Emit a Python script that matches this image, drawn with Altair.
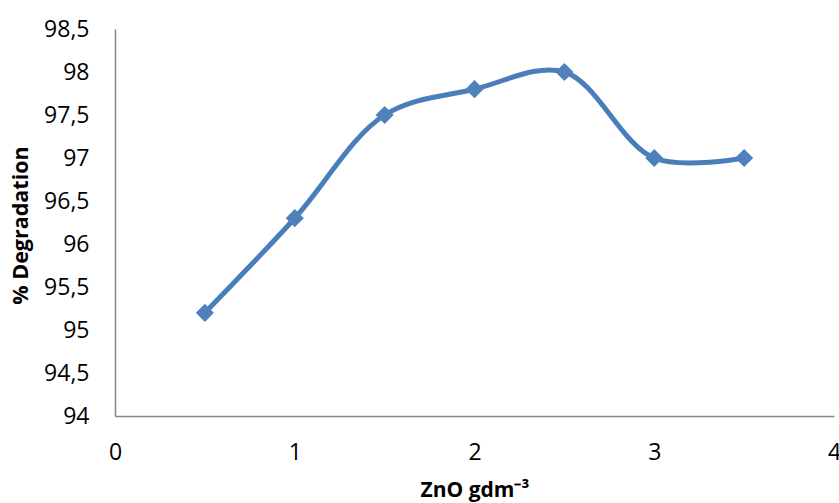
import altair as alt
import pandas as pd

zno = [0.5, 1.0, 1.5, 2.0, 2.5, 3.0, 3.5]
degradation = [95.2, 96.3, 97.5, 97.8, 98.0, 97.0, 97.0]
x_ticks = [0, 1, 2, 3, 4]
y_ticks = [94, 94.5, 95, 95.5, 96, 96.5, 97, 97.5, 98, 98.5]

df = pd.DataFrame({"zno": zno, "deg": degradation})

FONT = "Open Sans"
BLUE = "#4a7ebb"

x_enc = alt.X(
    "zno:Q",
    scale=alt.Scale(domain=[0, 4], nice=False, zero=False),
    axis=alt.Axis(
        values=x_ticks, format="d", title="ZnO gdm⁻³", grid=False, ticks=False,
        domainColor="#868686", domainWidth=1.5, labelFont=FONT, labelFontSize=23,
        labelColor="#000000", labelPadding=25, labelFlush=False,
        titleFont=FONT, titleFontSize=21, titleFontWeight="bold", titleColor="#000000",
        titleY=74, titleBaseline="middle",
    ),
)
y_enc = alt.Y(
    "deg:Q",
    scale=alt.Scale(domain=[94, 98.5], nice=False, zero=False),
    axis=alt.Axis(
        values=y_ticks, format=".1~f", labelExpr="replace(datum.label, '.', ',')",
        title="% Degradation", grid=False, ticks=False,
        domainColor="#868686", domainWidth=1.5, labelFont=FONT, labelFontSize=23,
        labelColor="#000000", labelPadding=26, labelFlush=False,
        titleFont=FONT, titleFontSize=21.5, titleFontWeight="bold", titleColor="#000000",
        titleX=-94, titleY=196, titleBaseline="middle",
    ),
)

line = alt.Chart(df).mark_line(
    interpolate="catmull-rom", color=BLUE, strokeWidth=5
).encode(x=x_enc, y=y_enc)

points = alt.Chart(df).mark_point(
    shape="diamond", filled=True, size=330, color="#4f81bd", opacity=1
).encode(x="zno:Q", y="deg:Q")

chart = (line + points).properties(
    width=719, height=387,
    autosize=alt.AutoSizeParams(type="none"),
    padding={"left": 115, "top": 29, "right": 5, "bottom": 87},
    background="white",
).configure_view(stroke=None)

chart.save("out.html", embed_options={"renderer": "svg", "actions": False})
